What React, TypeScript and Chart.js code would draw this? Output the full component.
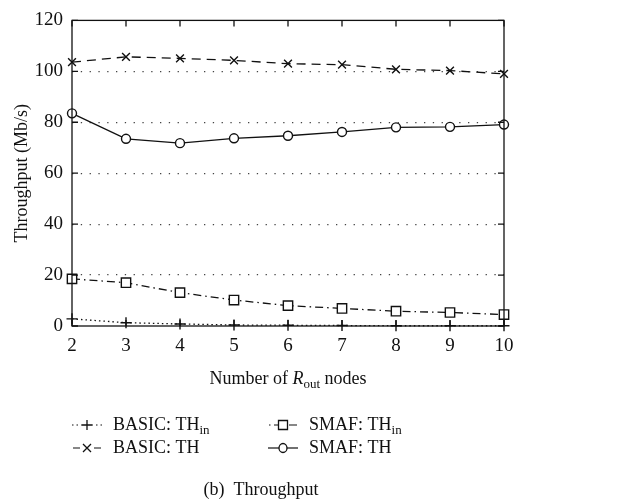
import React, { useEffect, useRef } from "react";
import { Chart, registerables } from "chart.js";

Chart.register(...registerables);

const nodes = [2, 3, 4, 5, 6, 7, 8, 9, 10];
const basicThIn = [2.8, 1.3, 0.8, 0.4, 0.3, 0.2, 0.1, 0.1, 0.1];
const basicTh = [103.6, 105.7, 105.1, 104.3, 103.0, 102.6, 100.8, 100.3, 99.0];
const smafThIn = [18.5, 17.0, 13.1, 10.2, 8.0, 6.9, 5.8, 5.3, 4.5];
const smafTh = [83.5, 73.5, 71.8, 73.7, 74.7, 76.2, 78.0, 78.2, 79.1];
const yTicks = [0, 20, 40, 60, 80, 100, 120];

const FONT = "'Liberation Serif', 'DejaVu Serif', serif";
const INK = "#111";

type Style = { dash: number[]; marker: "cross" | "crossRot" | "rect" | "circle" };
const styles: Style[] = [
  { dash: [1.5, 3], marker: "cross" },
  { dash: [9, 6], marker: "crossRot" },
  { dash: [8, 4, 1.5, 4], marker: "rect" },
  { dash: [], marker: "circle" },
];

// legend sample strokes: [from, to] offsets along a 30px sample
const sampleSegments: [number, number][][] = [
  [[0, 1.5], [4.5, 6], [9, 10], [20, 21], [24, 25.5], [28.5, 30]],
  [[1, 8], [22, 29]],
  [[1, 2.5], [6, 12], [21, 29]],
  [[0, 30]],
];

function drawMarker(ctx: CanvasRenderingContext2D, m: Style["marker"], x: number, y: number) {
  ctx.save();
  ctx.setLineDash([]);
  ctx.lineWidth = 1.3;
  ctx.strokeStyle = INK;
  ctx.beginPath();
  if (m === "cross") {
    ctx.moveTo(x - 5, y); ctx.lineTo(x + 5, y);
    ctx.moveTo(x, y - 5); ctx.lineTo(x, y + 5);
    ctx.stroke();
  } else if (m === "crossRot") {
    ctx.moveTo(x - 4, y - 4); ctx.lineTo(x + 4, y + 4);
    ctx.moveTo(x + 4, y - 4); ctx.lineTo(x - 4, y + 4);
    ctx.stroke();
  } else if (m === "rect") {
    ctx.fillStyle = "#fff";
    ctx.rect(x - 4.5, y - 4.5, 9, 9);
    ctx.fill(); ctx.stroke();
  } else {
    ctx.fillStyle = "#fff";
    ctx.ellipse(x, y, 4, 4.5, 0, 0, Math.PI * 2);
    ctx.fill(); ctx.stroke();
  }
  ctx.restore();
}

const decorations = {
  id: "decorations",
  afterDraw(chart: any) {
    const ctx: CanvasRenderingContext2D = chart.ctx;
    const { left, right, top, bottom } = chart.chartArea;
    const xs = chart.scales.x;
    const ys = chart.scales.y;
    ctx.save();
    ctx.strokeStyle = INK;
    ctx.lineWidth = 1.3;
    ctx.setLineDash([]);
    ctx.strokeRect(left, top, right - left, bottom - top);
    // inward ticks on all four sides
    ctx.beginPath();
    for (const v of yTicks) {
      const py = ys.getPixelForValue(v);
      ctx.moveTo(left, py); ctx.lineTo(left + 6, py);
      ctx.moveTo(right, py); ctx.lineTo(right - 6, py);
    }
    for (const v of nodes) {
      const px = xs.getPixelForValue(v);
      ctx.moveTo(px, bottom); ctx.lineTo(px, bottom - 6);
      ctx.moveTo(px, top); ctx.lineTo(px, top + 6);
    }
    ctx.stroke();

    ctx.fillStyle = INK;
    // y axis title
    ctx.save();
    ctx.translate(22, (top + bottom) / 2);
    ctx.rotate(-Math.PI / 2);
    ctx.font = `18px ${FONT}`;
    ctx.textAlign = "center";
    ctx.textBaseline = "middle";
    ctx.fillText("Throughput (Mb/s)", 0, 0);
    ctx.restore();

    // x axis title with subscript
    const cx = (left + right) / 2;
    const by = 384;
    const parts: [string, string, number][] = [
      ["Number of ", `18px ${FONT}`, 0],
      ["R", `italic 18px ${FONT}`, 0],
      ["out", `13px ${FONT}`, 4],
      [" nodes", `18px ${FONT}`, 0],
    ];
    let total = 0;
    for (const [t, f] of parts) { ctx.font = f; total += ctx.measureText(t).width; }
    let x = cx - total / 2;
    ctx.textAlign = "left";
    ctx.textBaseline = "alphabetic";
    for (const [t, f, dy] of parts) {
      ctx.font = f;
      ctx.fillText(t, x, by + dy);
      x += ctx.measureText(t).width;
    }

    // legend: short line samples with the series marker in the middle
    const labels = ["BASIC: TH", "BASIC: TH", "SMAF: TH", "SMAF: TH"];
    const subs = ["in", "", "in", ""];
    const pos = [
      [72, 430], [72, 453], [268, 430], [268, 453],
    ];
    for (let i = 0; i < 4; i++) {
      const [sx, sy] = pos[i];
      ctx.save();
      ctx.lineWidth = 1.2;
      ctx.setLineDash([]);
      ctx.beginPath();
      for (const [a, b] of sampleSegments[i]) {
        ctx.moveTo(sx + a, sy - 5);
        ctx.lineTo(sx + b, sy - 5);
      }
      ctx.stroke();
      ctx.restore();
      drawMarker(ctx, styles[i].marker, sx + 15, sy - 5);
      ctx.font = `18px ${FONT}`;
      ctx.fillText(labels[i], sx + 41, sy);
      const w = ctx.measureText(labels[i]).width;
      if (subs[i]) {
        ctx.font = `13px ${FONT}`;
        ctx.fillText(subs[i], sx + 41 + w, sy + 4);
      }
    }

    // caption
    ctx.font = `18px ${FONT}`;
    ctx.textAlign = "center";
    ctx.fillText("(b)  Throughput", 261, 495);
    ctx.restore();
  },
};

export default function App() {
  const ref = useRef<HTMLCanvasElement>(null);
  useEffect(() => {
    if (!ref.current) return;
    const series = [basicThIn, basicTh, smafThIn, smafTh];
    const names = ["BASIC: THin", "BASIC: TH", "SMAF: THin", "SMAF: TH"];
    const chart = new Chart(ref.current, {
      type: "line",
      data: {
        datasets: series.map((vals, i) => ({
          label: names[i],
          data: vals.map((v, j) => ({ x: nodes[j], y: v })),
          borderColor: INK,
          borderWidth: 1.3,
          borderDash: styles[i].dash,
          pointStyle: styles[i].marker,
          pointRadius: styles[i].marker === "rect" ? 6.6 : styles[i].marker === "circle" ? 4.5 : 5.5,
          pointBorderWidth: 1.4,
          pointBorderColor: INK,
          pointBackgroundColor: "#fff",
          fill: false,
          tension: 0,
          clip: false as any,
        })),
      },
      options: {
        animation: false,
        responsive: true,
        maintainAspectRatio: false,
        layout: { padding: { left: 0, right: 119, top: 17, bottom: 0 } },
        plugins: { legend: { display: false }, tooltip: { enabled: false } },
        scales: {
          x: {
            type: "linear",
            min: 2,
            max: 10,
            afterFit: (s: any) => { s.height = 178; },
            afterBuildTicks: (s: any) => { s.ticks = nodes.map((v) => ({ value: v })); },
            grid: { display: false, drawTicks: false },
            border: { display: false },
            ticks: { color: INK, padding: 9, font: { family: FONT, size: 19 } },
          },
          y: {
            min: 0,
            max: 120,
            afterFit: (s: any) => { s.width = 72; },
            afterBuildTicks: (s: any) => { s.ticks = yTicks.map((v) => ({ value: v })); },
            grid: {
              drawTicks: false,
              lineWidth: 1.2,
              color: (c: any) => (c.tick && (c.tick.value === 0 || c.tick.value === 120) ? "rgba(0,0,0,0)" : "#444"),
            },
            border: { display: false, dash: [1.3, 7.5] },
            ticks: { color: INK, padding: 9, font: { family: FONT, size: 19 } },
          },
        },
      },
      plugins: [decorations],
    });
    return () => chart.destroy();
  }, []);
  return (
    <div style={{ position: "fixed", left: 0, top: 0, width: 623, height: 504, background: "#fff" }}>
      <canvas ref={ref} />
    </div>
  );
}
